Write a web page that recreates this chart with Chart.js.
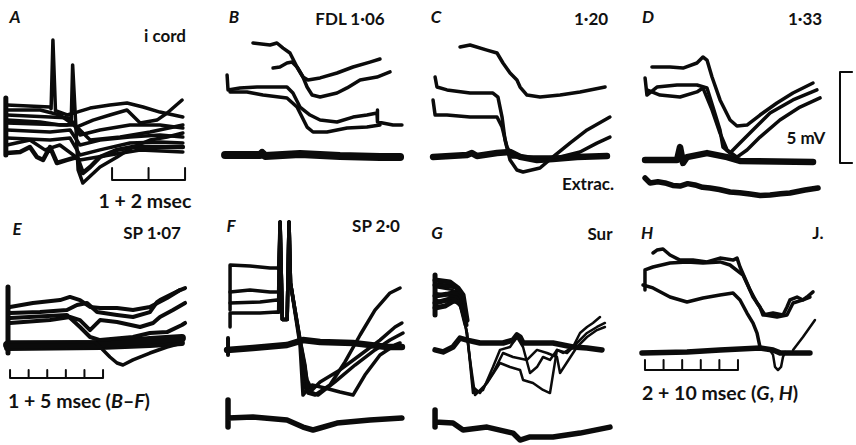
<!DOCTYPE html>
<html>
<head>
<meta charset="utf-8">
<script src="https://cdn.jsdelivr.net/npm/chart.js@4.4.0/dist/chart.umd.min.js"></script>
<style>
  body { margin: 0; background: #fff; width: 856px; height: 445px; position: relative; overflow: hidden; }
  canvas { position: absolute; }
  .t { position: absolute; font-family: Lato, "Open Sans", sans-serif; font-weight: 700; font-size: 17px; color: #111; white-space: nowrap; transform: translate(-50%, -50%); }
  .l { transform: translate(0, -50%); }
  .big { font-size: 19.5px; }
  .it { font-style: italic; }
</style>
</head>
<body>
<div class="t it" style="left:15px;top:16px">A</div>
<div class="t" style="left:165px;top:35px">i cord</div>
<div class="t big" style="left:145px;top:200px">1 + 2 msec</div>
<div class="t it" style="left:234px;top:16px">B</div>
<div class="t" style="left:350px;top:18px">FDL 1·06</div>
<div class="t it" style="left:436px;top:16px">C</div>
<div class="t" style="left:591px;top:18px">1·20</div>
<div class="t" style="left:588px;top:183px">Extrac.</div>
<div class="t it" style="left:648px;top:16px">D</div>
<div class="t" style="left:805px;top:18px">1·33</div>
<div class="t" style="left:806px;top:137px">5 mV</div>
<div class="t it" style="left:17px;top:228px">E</div>
<div class="t" style="left:152px;top:232px">SP 1·07</div>
<div class="t l big" style="left:8px;top:400px">1 + 5 msec (<i>B</i>–<i>F</i>)</div>
<div class="t it" style="left:231px;top:225px">F</div>
<div class="t" style="left:376px;top:225px">SP 2·0</div>
<div class="t it" style="left:437px;top:232px">G</div>
<div class="t" style="left:600px;top:233px">Sur</div>
<div class="t it" style="left:647px;top:232px">H</div>
<div class="t" style="left:818px;top:232px">J.</div>
<div class="t l big" style="left:642px;top:392px">2 + 10 msec (<i>G</i>, <i>H</i>)</div>
<script>
// traces: [time (msec), potential (mV)]

// A  (i cord, 1+2 msec)
const a1 = [[0.19,2.31],[1.37,2.2],[1.40,2.1],[1.45,5.88],[1.52,2.0],[1.84,1.76],[2.11,1.92],[2.47,2.14],[3.01,2.31],[3.48,2.42],[3.92,2.2],[4.38,1.92],[5.01,1.65]];
const a2 = [[0.19,2.03],[1.1,2.03],[1.64,1.76],[2.11,1.1],[2.55,1.48],[3.01,1.76],[3.48,2.03],[3.84,1.32],[4.3,1.48],[4.58,1.87],[4.99,2.58]];
const a3 = [[0.19,1.32],[1.84,1.21],[1.95,1.3],[1.99,4.51],[2.04,2.6],[2.14,-1.26],[2.27,-1.98],[2.74,-1.1],[3.21,-0.55],[3.64,0],[4.11,0.38],[4.58,0.55],[5.01,0.77]];
const a4 = [[0.19,-0.33],[0.55,-0.27],[0.82,0],[1.01,-0.55],[1.18,-0.71],[1.37,0],[1.56,-0.88],[1.84,-0.71],[2.11,-0.55],[2.27,-1.43],[2.47,-1.1],[2.74,-0.55],[3.21,-0.16],[3.64,0],[4.11,0],[5.01,0]];
const a5 = [[0.19,1.76],[1.37,1.65],[1.92,1.59],[2.19,0.66],[2.74,0.93],[3.56,1.21],[4.38,1.21],[5.01,1.04]];
const a6 = [[0.19,0.93],[1.37,0.82],[1.92,0.93],[2.19,0.11],[2.74,0.38],[3.56,0.55],[4.38,0.66],[5.01,0.55]];
const a7 = [[0.19,0.49],[1.37,0.38],[1.92,0.49],[2.19,-0.44],[2.74,-0.16],[3.56,0.22],[4.38,0.27],[5.01,0.22]];
const a8 = [[0.19,1.48],[1.1,1.37],[1.64,1.21],[2.05,1.21],[2.47,0.38],[3.29,0.55],[4.11,0.82],[5.01,1.21]];
const a9 = [[0.19,0.11],[0.82,0.38],[1.23,-0.16],[1.64,0.11],[2.19,-0.71],[3.01,-0.44],[3.84,-0.16],[5.01,-0.27]];
const aEdge = [[0.16,2.69],[0.16,-0.44]];
const aBarTicks = [3.07, 4.07, 5.07];

// B  (FDL 1.06)
const b1 = [[2.04,6.21],[2.96,6.1],[3.33,6.21],[3.66,5.93],[4.03,5.66],[4.41,4.89],[4.73,4.34],[5.0,4.18],[5.65,4.29],[6.56,4.56],[7.42,4.89],[8.33,5.16],[8.87,5.33]];
const b2 = [[3.12,4.84],[3.49,4.89],[3.87,5.11],[4.14,5.16],[4.41,4.89],[4.73,4.34],[4.95,3.79],[5.22,3.35],[5.65,3.24],[6.56,3.46],[7.1,3.74],[7.8,4.18],[8.71,4.34],[9.41,4.62]];
const b3 = [[0.65,4.45],[0.7,3.63],[1.34,3.74],[2.26,3.79],[2.96,3.79],[3.87,3.79],[4.19,3.46],[4.57,2.69],[5.11,2.25],[5.65,1.98],[6.56,1.87],[7.42,2.14],[8.17,2.25],[8.71,2.36],[8.71,2.53],[8.76,1.87],[9.57,1.7],[10.05,1.7]];
const b4 = [[0.81,3.52],[1.72,3.52],[2.58,3.35],[3.87,3.19],[4.41,2.69],[4.95,1.59],[5.27,1.32],[6.02,1.32],[7.1,1.54],[8.17,1.59],[8.87,1.7]];
const bBase = [[0.54,0.05],[2.42,0.05],[2.53,0.16],[2.69,0],[4.57,0.11],[6.72,0],[8.87,-0.05],[9.95,-0.05]];

// C  (1.20)
const c1 = [[2.42,5.99],[2.96,6.1],[3.87,5.82],[4.41,5.66],[4.73,5.11],[5.11,4.56],[5.48,4.18],[5.65,3.79],[6.02,3.35],[6.72,3.24],[7.8,3.35],[8.87,3.52],[10.22,3.79]];
const c2 = [[1.08,4.34],[1.18,3.79],[1.72,3.63],[2.96,3.46],[4.19,3.46],[4.46,3.24],[4.68,2.14],[4.84,0.88],[5.11,-0.22],[5.48,-0.77],[5.81,-0.88],[6.72,-0.66],[7.42,-0.05],[8.33,0.71],[9.25,1.43],[10.48,2.14]];
const c3 = [[0.97,3.08],[1.08,2.25],[1.72,2.25],[2.96,2.14],[4.41,2.14],[4.68,1.59],[4.95,0.49],[5.22,-0.05],[5.65,-0.05],[6.56,-0.05],[7.8,-0.05],[8.87,0.22],[9.78,0.71],[10.48,1.04]];
const cBase = [[0.97,-0.05],[2.8,0.05],[3.06,0.16],[3.33,0],[4.41,0.16],[5.11,0.22],[5.65,-0.05],[6.56,-0.22],[7.42,-0.16],[8.71,-0.05],[10.32,0]];

// D  (1.33)
const d1 = [[1.18,5.11],[2.15,5.11],[2.85,5.05],[3.6,5.33],[3.92,5.66],[4.14,5.49],[4.41,4.56],[4.84,3.3],[5.38,2.2],[5.75,1.87],[6.29,1.92],[6.99,2.47],[7.9,3.13],[8.76,3.68],[9.84,4.23]];
const d2 = [[0.81,4.51],[0.91,3.57],[1.45,4.01],[2.53,4.12],[3.6,4.12],[4.14,3.96],[4.46,2.91],[4.84,1.65],[5.0,0.71],[5.38,0.38],[5.91,0.93],[6.61,1.65],[7.53,2.58],[8.76,3.3],[10.05,3.85]];
const d3 = [[0.91,3.85],[1.61,3.57],[2.69,3.46],[3.6,3.74],[3.92,3.96],[4.41,2.75],[4.84,1.48],[5.22,0.55],[5.75,0.16],[6.29,0.55],[6.99,1.26],[8.06,2.2],[9.14,2.91],[10.22,3.41]];
const dBase = [[0.81,0],[2.53,0],[2.69,0.71],[2.85,-0.16],[3.06,0.16],[4.14,0.38],[5.22,0.16],[5.91,-0.05],[9.84,-0.11]];
const dExtrac = [[0.81,-0.99],[1.08,-1.26],[1.5,-1.2],[1.88,-1.26],[2.3,-1.4],[2.69,-1.43],[3.1,-1.3],[3.49,-1.37],[3.9,-1.5],[4.3,-1.54],[4.8,-1.62],[5.38,-1.76],[5.9,-1.8],[6.45,-1.87],[7.0,-1.95],[7.53,-1.92],[8.1,-1.86],[8.6,-1.81],[9.41,-1.65],[10.11,-1.54]];
const dMvBar = [[11.94,4.84],[11.29,4.84],[11.29,-0.16],[11.94,-0.16]];

// E  (SP 1.07)
const e1 = [[0.54,2.09],[1.77,2.31],[3.23,2.47],[3.76,2.64],[4.3,2.47],[4.84,2.09],[5.38,2.03],[6.29,2.03],[7.15,1.92],[8.06,2.09],[8.98,2.58],[9.68,3.02],[9.95,3.13]];
const e2 = [[0.54,1.76],[2.15,1.81],[3.6,1.92],[4.14,2.2],[4.68,2.31],[5.22,1.81],[6.29,1.65],[7.15,1.54],[8.06,1.81],[8.44,2.36],[8.6,2.47],[9.68,3.02]];
const e3 = [[0.54,1.21],[2.69,1.37],[3.76,1.54],[4.3,1.37],[4.84,0.82],[5.38,1.37],[6.29,1.26],[7.53,0.99],[8.23,1.21],[8.6,1.54],[9.3,1.92],[9.95,2.31]];
const e4 = [[0.54,1.48],[3.6,1.65],[4.3,0.99],[4.84,0.44],[5.38,0.27],[7.15,0.44],[8.06,0.66],[8.98,0.71],[9.78,1.1],[9.95,1.21]];
const e5 = [[0.38,0.16],[5.11,0.16],[5.38,-0.11],[5.91,-0.66],[6.29,-0.99],[6.61,-1.1],[7.15,-0.82],[8.06,-0.44],[8.98,-0.11],[9.78,0.11]];
const eBase = [[0.38,0],[5.38,0.05],[6.29,0.11],[8.06,0.27],[9.78,0.38]];
const eBase2 = [[0.38,-0.16],[5.38,-0.11],[8.06,0],[9.78,0.11]];
const eEdge = [[0.43,3.19],[0.43,-0.44]];
const eBarTicks = [0.54, 1.54, 2.54, 3.54, 4.54, 5.54];

// F  (SP 2.0)
const f1 = [[0.81,1.92],[0.81,4.4],[1.88,4.34],[2.96,4.23],[3.33,4.23],[3.42,4.2],[3.5,6.76],[3.62,1.4],[3.88,1.4],[3.98,6.76],[4.06,3.4],[4.57,0.3],[4.84,-1.1],[5.0,-2.64],[5.38,-2.75],[6.18,-2.2],[6.99,-0.93],[7.8,0.55],[8.6,1.92],[9.41,2.86],[9.95,3.13]];
const f2 = [[0.81,2.91],[1.88,3.02],[2.96,2.91],[3.33,2.91],[3.42,2.9],[3.5,6.76],[3.62,1.4],[3.88,1.4],[3.98,6.76],[4.06,3.4],[4.57,0.3],[4.95,-1.92],[5.22,-2.47],[5.65,-2.03],[6.72,-1.37],[7.8,-0.55],[8.87,0.27],[9.68,0.99],[10.05,1.21]];
const f3 = [[0.81,2.31],[2.42,2.36],[3.33,2.47],[3.42,2.45],[3.5,6.76],[3.62,1.4],[3.88,1.4],[3.98,6.76],[4.06,3.4],[4.57,0.2],[4.89,-2.47],[5.54,-2.75],[6.45,-2.03],[7.53,-1.1],[8.6,-0.27],[9.41,0.27],[10.11,0.66]];
const f4 = [[0.81,0.99],[0.81,1.76],[2.42,1.76],[3.33,1.81],[3.42,1.8],[3.5,6.76],[3.62,1.4],[3.88,1.4],[3.98,6.76],[4.06,3.4],[4.57,0],[4.73,-2.75],[4.95,-2.47],[5.22,-2.2],[5.91,-2.36],[6.72,-2.58],[7.42,-2.75],[8.06,-1.65],[8.87,-0.55],[9.68,0],[9.95,0.11]];
const fBase = [[0.65,-0.27],[2.04,-0.16],[3.87,0],[4.73,0.27],[5.65,0.16],[7.42,0.11],[9.25,-0.11],[10.05,-0.11]];
const fBaseEdge = [[0.7,0.38],[0.7,-0.55]];
const fExtrac = [[0.7,-3.02],[0.7,-4.51],[0.7,-4.01],[2.04,-3.96],[3.87,-4.12],[4.73,-4.51],[5.27,-4.67],[5.65,-4.56],[6.56,-4.29],[8.33,-4.12],[10.05,-4.01]];

// G  (Sur, 2+10 msec)
const g1 = [[1.08,3.19],[3.01,3.02],[3.76,2.64],[4.52,0.66],[5.16,-2.64],[6.24,-2.47],[7.31,-1.21],[8.06,-0.27],[9.14,-0.11],[9.89,0.44],[10.54,-0.11],[11.29,-1.54],[12.04,-1.21],[12.69,-0.66],[13.44,-0.82],[14.19,-0.27],[14.84,-0.44],[15.91,-0.11],[16.67,0.66],[17.42,0.99],[18.06,1.21],[18.82,1.54]];
const g2 = [[1.08,2.86],[3.44,2.64],[4.09,2.09],[4.84,-0.82],[5.38,-2.75],[6.67,-2.09],[8.06,-0.99],[9.14,-1.21],[10.22,-1.37],[10.54,-1.92],[11.61,-2.09],[12.69,-2.47],[13.44,-2.64],[14.19,-0.27],[15.27,-0.44],[16.34,0.11],[17.42,0.66],[18.49,0.99],[19.35,1.21]];
const g3 = [[1.08,2.47],[3.76,2.31],[4.52,0.66],[5.16,-2.31],[5.91,-2.64],[7.31,-1.54],[8.39,-0.44],[9.46,-0.66],[10.97,-0.82],[12.04,-0.27],[13.12,-0.44],[14.19,-0.66],[14.52,-1.54],[16.34,-0.11],[17.42,0.44],[18.49,0.82],[19.35,0.99]];
const g4 = [[1.08,3.57],[2.69,3.46],[3.55,3.13],[4.09,2.75],[4.52,1.37]];
const g5 = [[1.08,2.69],[2.47,2.8],[3.55,2.91],[3.98,2.47],[4.41,1.48]];
const g6 = [[1.08,2.03],[2.15,2.14],[3.23,2.47],[3.87,2.2],[4.41,1.1]];
const g7 = [[1.08,3.3],[2.3,3.25],[3.3,3.2],[3.9,2.6],[4.3,1.6]];
const g8 = [[1.08,2.3],[2.5,2.5],[3.4,2.75],[4.0,2.0],[4.4,1.3]];
const gEdge = [[1.08,3.85],[1.08,1.65]];
const gBase = [[1.08,-0.27],[1.94,-0.38],[3.01,-0.11],[3.76,0.38],[4.52,0.27],[5.91,0.11],[8.39,0.11],[9.46,0.27],[9.89,0.55],[10.22,0.44],[10.54,0.11],[13.76,0.11],[15.91,-0.11],[17.42,-0.16],[19.03,-0.27]];
const gExtrac = [[1.08,-3.57],[1.08,-4.51],[1.08,-4.23],[3.01,-4.29],[4.09,-4.67],[6.67,-4.51],[9.46,-4.84],[10.22,-5.22],[11.29,-5.05],[13.76,-5.05],[16.67,-4.84],[19.89,-4.51]];

// H
const h1 = [[2.47,5.44],[2.9,5.6],[3.55,5.66],[4.3,5.33],[5.38,5.05],[6.77,5.05],[8.28,4.95],[9.68,5.16],[11.08,5.05],[11.51,5.16],[11.83,4.67],[12.58,3.79],[13.23,3.02],[13.98,2.47],[14.3,2.03],[15.38,2.14],[16.45,2.03],[16.88,2.47],[17.2,2.86],[17.96,3.02],[18.6,2.86],[19.03,3.02],[19.68,3.3]];
const h2 = [[1.61,3.41],[1.61,4.51],[2.47,4.67],[4.3,4.89],[6.13,4.95],[7.85,4.89],[9.68,4.95],[10.75,4.78],[12.15,4.23],[12.9,3.41],[13.66,2.69],[14.52,2.03],[15.81,1.92],[16.88,2.03],[17.53,2.69],[18.6,2.86],[19.35,3.02]];
const h3 = [[1.4,3.68],[2.47,3.52],[4.3,3.02],[6.13,2.75],[7.85,2.97],[9.68,3.13],[11.08,3.24],[11.83,2.86],[12.58,2.14],[13.23,1.59],[13.66,1.04],[13.98,0.27]];
const hBase = [[1.29,-0.05],[6.13,0],[9.68,0.11],[13.98,0.22],[15.38,0.11],[16.13,-0.05],[19.35,-0.05]];
const hDip = [[15.05,0.11],[15.38,-0.16],[15.59,-0.82],[15.91,-0.99],[16.24,-0.82],[16.45,-0.27],[16.67,0]];
const hRise = [[17.53,0.11],[18.6,0.82],[19.89,1.76]];
const hBarTicks = [1.61, 3.61, 5.61, 7.61, 9.61, 11.61];

// time bar with upward ticks, built from the tick times
function timeBar(ticks, yBar, yTick) {
  const pts = [];
  ticks.forEach((t, i) => {
    if (i > 0) pts.push([t, yBar]);
    pts.push([t, yTick]);
    pts.push([t, yBar]);
  });
  return pts;
}

function line(pts, w) {
  return {
    data: pts.map(p => ({ x: p[0], y: p[1] })),
    showLine: true,
    borderColor: '#0b0b0b',
    borderWidth: w,
    pointRadius: 0,
    fill: false,
    tension: 0,
    clip: false,
    borderJoinStyle: 'round',
    borderCapStyle: 'round'
  };
}

// box = canvas placement in page px; x0/y0 = page px of t=0 / 0 mV; kx px per msec, ky px per mV
function panel(box, sc, sets) {
  const c = document.createElement('canvas');
  c.width = box.w;
  c.height = box.h;
  c.style.left = box.x + 'px';
  c.style.top = box.y + 'px';
  document.body.appendChild(c);
  new Chart(c, {
    type: 'scatter',
    data: { datasets: sets },
    options: {
      responsive: false,
      animation: false,
      events: [],
      layout: { padding: 0 },
      plugins: { legend: { display: false }, tooltip: { enabled: false } },
      scales: {
        x: { type: 'linear', display: false, min: (box.x - sc.x0) / sc.kx, max: (box.x + box.w - sc.x0) / sc.kx },
        y: { type: 'linear', display: false, min: (sc.y0 - box.y - box.h) / sc.ky, max: (sc.y0 - box.y) / sc.ky }
      }
    }
  });
}

const ky = 18.2;
const w = 3.5;

panel({ x: 0, y: 30, w: 200, h: 160 }, { x0: 0, y0: 147, kx: 36.5, ky },
  [line(a1, w), line(a2, w), line(a3, w), line(a4, 4.5), line(a5, w), line(a6, w), line(a7, w), line(a8, w), line(a9, w), line(aEdge, 5),
   line(timeBar(aBarTicks, -1.81, -1.15), 2)]);

panel({ x: 215, y: 30, w: 200, h: 140 }, { x0: 215, y0: 156, kx: 18.6, ky },
  [line(b1, w), line(b2, w), line(b3, w), line(b4, w), line(bBase, 8)]);

panel({ x: 415, y: 30, w: 205, h: 145 }, { x0: 415, y0: 156, kx: 18.6, ky },
  [line(c1, w), line(c2, w), line(c3, w), line(cBase, 6.5)]);

panel({ x: 630, y: 30, w: 226, h: 175 }, { x0: 630, y0: 160, kx: 18.6, ky },
  [line(d1, w), line(d2, w), line(d3, w), line(dBase, 6.5), line(dExtrac, 5.5), line(dMvBar, 2)]);

panel({ x: 0, y: 270, w: 200, h: 120 }, { x0: 0, y0: 345, kx: 18.6, ky },
  [line(e1, 4), line(e2, 4), line(e3, 4), line(e4, 4), line(e5, 3.5), line(eBase, 8), line(eBase2, 6), line(eEdge, 5),
   line(timeBar(eBarTicks, -1.81, -1.37), 2)]);

panel({ x: 215, y: 210, w: 200, h: 230 }, { x0: 215, y0: 345, kx: 18.6, ky },
  [line(f1, w), line(f2, w), line(f3, w), line(f4, w), line(fBase, 6.5), line(fBaseEdge, 4), line(fExtrac, 5.5)]);

panel({ x: 425, y: 260, w: 190, h: 185 }, { x0: 425, y0: 345, kx: 9.3, ky },
  [line(g1, 2.5), line(g2, 2.5), line(g3, 2.5), line(g4, 5), line(g5, 5), line(g6, 5), line(g7, 5), line(g8, 5), line(gEdge, 5), line(gBase, 5.5), line(gExtrac, 5.5)]);

panel({ x: 630, y: 240, w: 200, h: 140 }, { x0: 630, y0: 352, kx: 9.3, ky },
  [line(h1, w), line(h2, w), line(h3, w), line(hBase, 5.5), line(hDip, 2.5), line(hRise, 2.5),
   line(timeBar(hBarTicks, -0.99, -0.44), 2)]);
</script>
</body>
</html>
